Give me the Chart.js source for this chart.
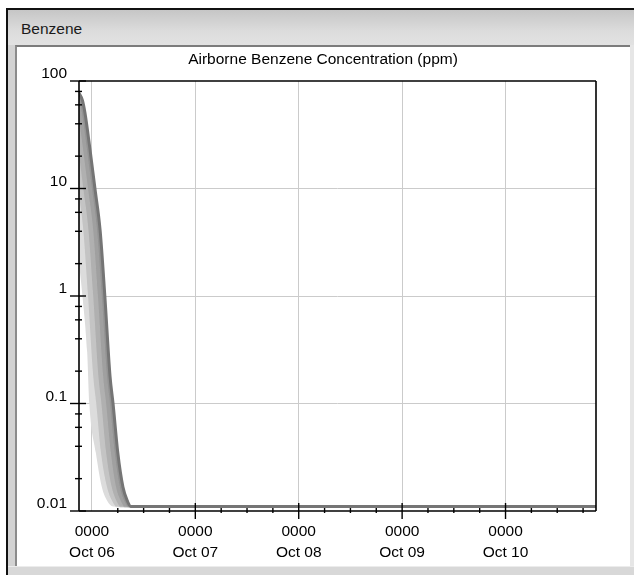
<!DOCTYPE html>
<html>
<head>
<meta charset="utf-8">
<script src="https://cdn.jsdelivr.net/npm/chart.js@4.4.1/dist/chart.umd.min.js"></script>
<style>
html,body{margin:0;padding:0;background:#fff;}
#page{position:relative;width:634px;height:575px;overflow:hidden;background:#fff;}
#win{position:absolute;left:6px;top:8px;width:628px;height:567px;background:#d3d3d3;border-left:2px solid #111;border-top:2px solid #111;box-sizing:border-box;}
#titlebar{position:absolute;left:8px;top:10px;width:626px;height:35px;background:linear-gradient(#c6c6c6,#dcdcdc 60%,#e2e2e2);}
#wintitle{position:absolute;left:21px;top:21px;font:15.5px "Liberation Sans",Arial,sans-serif;line-height:16px;color:#1a1a1a;}
#panel{position:absolute;left:15px;top:45px;width:615px;height:521px;background:#fff;border-left:2px solid #8c8c8c;border-top:2px solid #7c7c7c;box-sizing:border-box;}
#rstrip{position:absolute;left:630px;top:45px;width:4px;height:530px;background:#e6e6e6;}
#bstrip{position:absolute;left:8px;top:566px;width:626px;height:9px;background:#d8d8d8;border-top:1px solid #ececec;box-sizing:border-box;}
#chart{position:absolute;left:17px;top:47px;}
</style>
</head>
<body>
<div id="page">
  <div id="win"></div>
  <div id="titlebar"></div>
  <div id="wintitle">Benzene</div>
  <div id="panel"></div>
  <div id="rstrip"></div>
  <div id="bstrip"></div>
  <canvas id="chart" width="612" height="518"></canvas>
</div>
<script>
// ---- axis definitions (hours since Oct 06 00:00) ----
const hoursMin = -3;
const hoursMax = 117;
const xTickHours = [0, 24, 48, 72, 96];
const xTickLabels = [['0000', 'Oct 06'], ['0000', 'Oct 07'], ['0000', 'Oct 08'], ['0000', 'Oct 09'], ['0000', 'Oct 10']];
const yTickValues = [0.01, 0.1, 1, 10, 100];
const yTickLabels = ['0.01', '0.1', '1', '10', '100'];
const chartTitle = 'Airborne Benzene Concentration (ppm)';

// ---- concentration levels shared by the band traces (ppm) ----
const bandPpm = [80, 66, 50, 24, 10, 4.1, 1.0, 0.18, 0.1, 0.035, 0.0167, 0.0122, 0.011, 0.011];
// darkest trace (right edge of the plume band)
const mainHours  = [-3.2, -2.2, -1.6, -0.5, 0.7, 1.9, 3.0, 4.2, 4.9, 6.0, 7.2, 8.3, 9.0, 117];
// progressively lighter shading traces, right to left
const band1Hours = [-3.9, -2.9, -2.3, -1.2, 0.0, 1.2, 2.3, 3.5, 4.2, 5.3, 6.5, 7.6, 8.4, 117];
const band2Hours = [-4.8, -3.8, -3.2, -2.1, -0.9, 0.3, 1.4, 2.6, 3.3, 4.4, 5.6, 6.8, 7.6, 117];
const band3Hours = [-5.9, -4.9, -4.3, -3.2, -2.0, -0.8, 0.3, 1.5, 2.2, 3.3, 4.6, 5.8, 6.6, 117];
const band4Hours = [-7.1, -6.1, -5.5, -4.4, -3.2, -2.0, -0.9, 0.3, 1.0, 2.1, 3.5, 4.8, 5.7, 117];
// faint left edge of the band
const edgeHours = [-7.0, -4.5, -3.0, -2.2, -1.1, -0.6, 0.9, 2.3, 3.5, 4.9, 117];
const edgePpm   = [60, 5, 2.0, 1.0, 0.3, 0.1, 0.035, 0.0167, 0.0125, 0.011, 0.011];

const pts = (xs, ys) => xs.map((x, i) => ({x: x, y: ys[i]}));
const FONT = '"Liberation Sans", Arial, sans-serif';
const NONE = 'rgba(0,0,0,0)';

const decor = {
  id: 'decor',
  afterDraw(chart) {
    const {ctx, chartArea: a, scales: {x, y}} = chart;
    const seg = (x1, y1, x2, y2) => { ctx.beginPath(); ctx.moveTo(x1, y1); ctx.lineTo(x2, y2); ctx.stroke(); };
    ctx.save();
    ctx.strokeStyle = '#000';
    ctx.lineWidth = 1.6;
    seg(a.left, a.top, a.right, a.top);
    seg(a.right, a.top, a.right, a.bottom);
    seg(a.left, a.top, a.left, a.bottom);
    seg(a.left, a.bottom, a.right, a.bottom);
    ctx.lineWidth = 1.4;
    yTickValues.forEach(v => { const p = y.getPixelForValue(v); seg(a.left - 9, p, a.left + 7, p); });
    yTickValues.slice(0, -1).forEach(d => {
      [2, 4, 6, 8].forEach(m => { const p = y.getPixelForValue(d * m); seg(a.left - 4, p, a.left + 3, p); });
    });
    for (let h = 6; h < hoursMax; h += 6) {
      const p = x.getPixelForValue(h);
      if (h % 24 === 0) seg(p, a.bottom - 8, p, a.bottom + 8);
      else seg(p, a.bottom - 3, p, a.bottom + 2);
    }
    ctx.restore();
  }
};

const band = (hours, color, target) => ({
  data: pts(hours, bandPpm), borderColor: color, borderWidth: 1.5, backgroundColor: color, fill: target
});

new Chart(document.getElementById('chart'), {
  type: 'line',
  data: {
    datasets: [
      {data: pts(mainHours, bandPpm), borderColor: '#757575', borderWidth: 3, backgroundColor: '#939393', fill: 1},
      band(band1Hours, '#a0a0a0', 2),
      band(band2Hours, '#b0b0b0', 3),
      band(band3Hours, '#c4c4c4', 4),
      band(band4Hours, '#dcdcdc', 5),
      {data: pts(edgeHours, edgePpm), borderColor: NONE, borderWidth: 0, backgroundColor: NONE, fill: false}
    ]
  },
  options: {
    responsive: false,
    animation: false,
    events: [],
    devicePixelRatio: 1,
    layout: {padding: 0},
    elements: {point: {radius: 0}, line: {cubicInterpolationMode: 'monotone'}},
    datasets: {line: {clip: 0}},
    plugins: {
      legend: {display: false},
      tooltip: {enabled: false},
      title: {
        display: true, text: chartTitle, color: '#000',
        font: {family: FONT, size: 15.5, weight: 'normal'},
        padding: {top: 3, bottom: 12.4}
      }
    },
    scales: {
      x: {
        type: 'linear', min: hoursMin, max: hoursMax,
        afterBuildTicks: s => { s.ticks = xTickHours.map(v => ({value: v})); },
        afterFit: s => { s.height = 54; },
        border: {display: false},
        grid: {color: '#cbcbcb', lineWidth: 1, drawTicks: false},
        ticks: {
          autoSkip: false, maxRotation: 0, padding: 11, color: '#000',
          font: {family: FONT, size: 15.5, lineHeight: 1.3},
          callback: (v, i) => xTickLabels[i]
        }
      },
      y: {
        type: 'logarithmic', min: 0.01, max: 100,
        afterBuildTicks: s => { s.ticks = yTickValues.map(v => ({value: v})); },
        afterFit: s => { s.width = 62; },
        border: {display: false},
        grid: {
          drawTicks: false, lineWidth: 1,
          color: c => (c.tick && (c.tick.value === 0.01 || c.tick.value === 100)) ? NONE : '#cbcbcb'
        },
        ticks: {
          autoSkip: false, padding: 12, labelOffset: -7, color: '#000',
          font: {family: FONT, size: 15.5},
          callback: (v, i) => yTickLabels[i]
        }
      },
      yRight: {
        type: 'linear', position: 'right', display: true,
        afterFit: s => { s.width = 33; },
        border: {display: false},
        grid: {display: false, drawTicks: false},
        ticks: {display: false}
      }
    }
  },
  plugins: [decor]
});
</script>
</body>
</html>
